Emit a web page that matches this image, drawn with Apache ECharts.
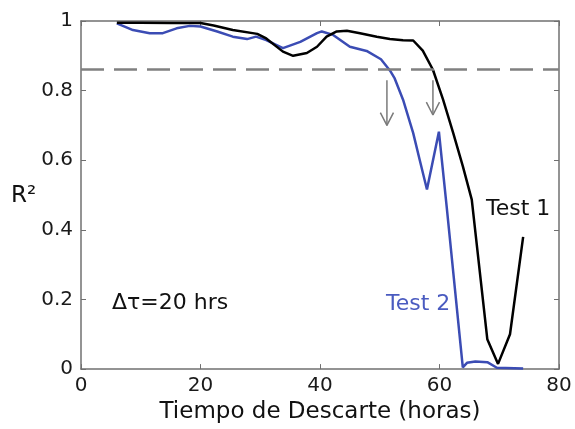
<!DOCTYPE html>
<html>
<head>
<meta charset="utf-8">
<script src="https://cdn.jsdelivr.net/npm/echarts@6/dist/echarts.min.js"></script>
<style>
html,body{margin:0;padding:0;background:#fff;}
#chart{width:575px;height:429px;}
</style>
</head>
<body>
<div id="chart"></div>
<script>
// ---- data ----
const xTicks = [0, 20, 40, 60, 80];
const yTicks = [0, 0.2, 0.4, 0.6, 0.8, 1];

const test1X = [6, 10, 15, 20, 22.2, 25.4, 29.5, 31, 33.8, 35.5, 37.8, 39.5, 41.1, 42.8, 44.5, 46.7, 49.5, 51.7, 53.9, 55.6, 57.2, 58.9, 60.6, 62.3, 63.9, 65.4, 68, 69.8, 71.8, 74];
const test1Y = [0.995, 0.995, 0.994, 0.994, 0.987, 0.974, 0.963, 0.95, 0.912, 0.90, 0.908, 0.926, 0.955, 0.97, 0.972, 0.965, 0.955, 0.948, 0.945, 0.944, 0.915, 0.86, 0.774, 0.678, 0.583, 0.487, 0.086, 0.015, 0.10, 0.38];

const test2X = [6, 8.7, 11.5, 13.7, 16, 18.2, 20, 22.8, 25.4, 27.8, 29.3, 31, 33.8, 36.7, 39.5, 40.3, 42.2, 45, 47.8, 50.2, 51.7, 52.5, 53.9, 55.6, 56.7, 57.9, 59.9, 61.2, 63.9, 64.6, 66, 68, 69.6, 74];
const test2Y = [0.993, 0.974, 0.965, 0.965, 0.979, 0.986, 0.984, 0.97, 0.955, 0.948, 0.955, 0.945, 0.922, 0.94, 0.965, 0.97, 0.96, 0.926, 0.914, 0.89, 0.858, 0.835, 0.774, 0.678, 0.60, 0.516, 0.682, 0.467, 0.005, 0.018, 0.022, 0.02, 0.004, 0.002];

const thresholdR2 = 0.858;

const arrow1Shaft = [[51.2, 0.83], [51.2, 0.70]];
const arrow1Head  = [[50.1, 0.737], [51.2, 0.70], [52.3, 0.737]];
const arrow2Shaft = [[58.9, 0.83], [58.9, 0.73]];
const arrow2Head  = [[57.8, 0.767], [58.9, 0.73], [60.0, 0.767]];

const labels = { yName: 'R²', test1: 'Test 1', test2: 'Test 2', dt: 'Δτ=20 hrs', xName: 'Tiempo de Descarte (horas)' };

// ---- build ----
const zip = (xs, ys) => xs.map((x, i) => [x, ys[i]]);
const FONT = 'DejaVu Sans';
const axisGray = '#707070';
const blue = '#3b4cb4';

const baseX = {
  type: 'value', min: 0, max: 80, interval: 20,
  axisLine: { show: true, onZero: false, lineStyle: { color: axisGray, width: 1.5 } },
  axisTick: { show: true, inside: true, length: 5, lineStyle: { color: axisGray } },
  splitLine: { show: false }
};
const baseY = {
  type: 'value', min: 0, max: 1, interval: 0.2,
  axisLine: { show: true, onZero: false, lineStyle: { color: axisGray, width: 1.5 } },
  axisTick: { show: true, inside: true, length: 5, lineStyle: { color: axisGray } },
  splitLine: { show: false }
};

const chart = echarts.init(document.getElementById('chart'), null, { renderer: 'canvas' });
const arrowStyle = { color: '#7a7a7a', width: 1.5 };
function arrowSeries(data) {
  return { type: 'line', data: data, symbol: 'none', lineStyle: arrowStyle, silent: true, z: 1, animation: false };
}

chart.setOption({
  animation: false,
  backgroundColor: '#fff',
  grid: { left: 81, right: 16, top: 21, bottom: 59 },
  xAxis: [
    Object.assign({}, baseX, {
      position: 'bottom',
      axisLabel: { show: true, color: '#1a1a1a', fontSize: 20, fontFamily: FONT, margin: 7,
        formatter: v => (xTicks.indexOf(v) >= 0 ? String(v) : '') },
      name: labels.xName, nameLocation: 'middle', nameGap: 26,
      nameTextStyle: { color: '#111', fontSize: 23, fontFamily: FONT }
    }),
    Object.assign({}, baseX, { position: 'top', axisLabel: { show: false } })
  ],
  yAxis: [
    Object.assign({}, baseY, {
      position: 'left',
      axisLabel: { show: true, color: '#1a1a1a', fontSize: 20, fontFamily: FONT, margin: 8,
        formatter: v => (yTicks.some(t => Math.abs(t - v) < 1e-9) ? String(+v.toFixed(1)) : '') }
    }),
    Object.assign({}, baseY, { position: 'right', axisLabel: { show: false } })
  ],
  graphic: [
    { type: 'text', left: 11, top: 185, style: { text: labels.yName, fontSize: 23, fontFamily: FONT, fill: '#111' } },
    { type: 'text', left: 486, top: 198, style: { text: labels.test1, fontSize: 22, fontFamily: FONT, fill: '#111' } },
    { type: 'text', left: 386, top: 293, style: { text: labels.test2, fontSize: 22, fontFamily: FONT, fill: '#4a5bc0' } },
    { type: 'text', left: 112, top: 292, style: { text: labels.dt, fontSize: 22, fontFamily: FONT, fill: '#111' } }
  ],
  series: [
    {
      name: 'Test 1', type: 'line', data: zip(test1X, test1Y), symbol: 'none',
      lineStyle: { color: '#000', width: 2.5 }, z: 3,
      markLine: {
        silent: true, symbol: 'none', label: { show: false },
        lineStyle: { color: '#808080', width: 2.5, type: [23, 10] },
        data: [{ yAxis: thresholdR2 }]
      }
    },
    {
      name: 'Test 2', type: 'line', data: zip(test2X, test2Y), symbol: 'none',
      lineStyle: { color: blue, width: 2.5 }, z: 2
    },
    arrowSeries(arrow1Shaft), arrowSeries(arrow1Head),
    arrowSeries(arrow2Shaft), arrowSeries(arrow2Head)
  ]
});
</script>
</body>
</html>
